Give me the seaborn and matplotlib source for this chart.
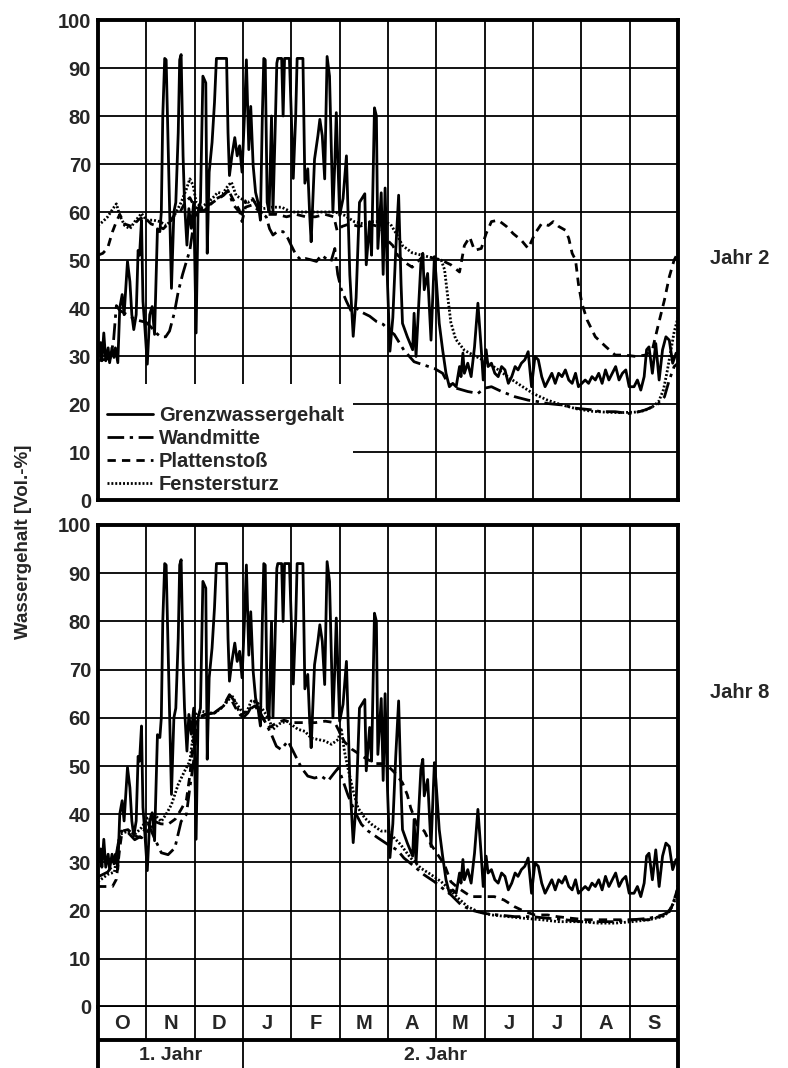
import matplotlib
matplotlib.use("Agg")
import pandas as pd
import matplotlib.pyplot as plt
import seaborn as sns
from matplotlib.patches import Rectangle

# --- DATA (x = months since 1 Oct, y = Vol.-%) ---
months = ["O", "N", "D", "J", "F", "M", "A", "M", "J", "J", "A", "S"]
series_names = ["Grenzwassergehalt", "Wandmitte", "Plattenstoß", "Fenstersturz"]
year_labels = ["1. Jahr", "2. Jahr"]
panel_labels = ["Jahr 2", "Jahr 8"]

# Grenzwassergehalt (same in both panels)
grenz_x = [0.00, 0.055, 0.08, 0.12, 0.16, 0.21, 0.24, 0.29, 0.33, 0.36, 0.41, 0.45, 0.50, 0.54, 0.61, 0.66,
           0.70, 0.74, 0.79, 0.83, 0.86, 0.90, 0.93, 0.97, 1.02, 1.07, 1.12, 1.17, 1.23, 1.28, 1.31, 1.34,
           1.38, 1.41, 1.46, 1.52, 1.57, 1.61, 1.66, 1.69, 1.72, 1.76, 1.79, 1.84, 1.88, 1.93, 1.98, 2.03,
           2.07, 2.12, 2.17, 2.23, 2.26, 2.30, 2.36, 2.41, 2.45, 2.66, 2.69, 2.72, 2.77, 2.83, 2.88, 2.93,
           2.98, 3.03, 3.07, 3.12, 3.16, 3.21, 3.26, 3.31, 3.36, 3.40, 3.43, 3.46, 3.50, 3.54, 3.59, 3.62,
           3.66, 3.70, 3.72, 3.80, 3.83, 3.86, 3.96, 4.00, 4.04, 4.09, 4.12, 4.24, 4.28, 4.34, 4.38, 4.41,
           4.48, 4.55, 4.59, 4.64, 4.69, 4.74, 4.79, 4.86, 4.90, 4.93, 5.00, 5.07, 5.14, 5.21, 5.28, 5.34,
           5.41, 5.52, 5.55, 5.62, 5.66, 5.72, 5.76, 5.79, 5.86, 5.90, 5.94, 5.99, 6.04, 6.10, 6.16, 6.22,
           6.27, 6.30, 6.40, 6.51, 6.54, 6.58, 6.68, 6.72, 6.75, 6.82, 6.89, 6.96, 6.99, 7.06, 7.13, 7.20,
           7.27, 7.34, 7.41, 7.48, 7.51, 7.55, 7.58, 7.65, 7.72, 7.79, 7.86, 7.93, 7.97, 8.03, 8.07, 8.14,
           8.21, 8.28, 8.35, 8.42, 8.49, 8.56, 8.63, 8.69, 8.76, 8.83, 8.90, 8.97, 9.04, 9.11, 9.18, 9.25,
           9.32, 9.39, 9.46, 9.53, 9.60, 9.67, 9.74, 9.81, 9.88, 9.94, 10.01, 10.08, 10.15, 10.22, 10.29,
           10.36, 10.43, 10.50, 10.57, 10.64, 10.71, 10.78, 10.85, 10.92, 10.99, 11.09, 11.16, 11.23,
           11.30, 11.35, 11.40, 11.47, 11.54, 11.61, 11.68, 11.75, 11.82, 11.89, 11.96, 12.0]
grenz_y = [30, 32.8, 29, 34.8, 29, 31.7, 28.6, 31.7, 29.7, 31.7, 28.6, 40, 42.8, 38.6, 49.7, 45.5,
           38.6, 35.5, 38.6, 52, 51, 58.3, 41.4, 35.9, 28.3, 38.6, 40.3, 34.5, 56.5, 55.9, 60, 80,
           92, 91.7, 69.7, 44.1, 60, 62, 76.5, 91.7, 92.8, 71.7, 62, 53.1, 60.7, 56.6, 62, 34.8,
           60, 62, 88.3, 86.9, 51.4, 68.3, 74.5, 82.8, 92, 92, 76.5, 67.6, 71.7, 75.5, 71.7, 73.8,
           68.3, 80, 91.7, 73, 82, 69.7, 64.1, 62, 58.3, 80, 92, 91.7, 62, 60, 80, 60,
           75, 91, 92, 92, 80, 92, 92, 80, 67, 80, 92, 92, 66, 69, 59.3, 53.8,
           71, 75.9, 79.3, 75.9, 66.9, 92.4, 88.3, 60, 70.3, 80.7, 59.3, 62.8, 71.7, 46.9, 34.1, 42.1,
           62, 63.8, 49, 58, 51, 81.7, 80, 52.4, 64, 47, 65, 45, 31, 38, 52, 63.5,
           45, 36.8, 34, 31.3, 38.9, 29.9, 49.3, 51.4, 43.8, 47.2, 33.3, 50.7, 47.2, 36.8, 31.3, 26.4,
           23.6, 24.3, 23.6, 27.8, 25.7, 30.6, 26.4, 28.5, 25.7, 31.9, 41, 31.3, 25, 31.3, 27.8, 28.5,
           26.4, 25.7, 27.8, 27.1, 24.3, 25.7, 27.8, 27.1, 28.5, 29.2, 30.9, 23.6, 29.9, 29.2, 25.7, 23.6,
           25, 26.4, 24.3, 26.4, 25.7, 27.1, 25, 24.3, 26.4, 23.6, 24.3, 25, 24.3, 25.7, 25,
           26.4, 24.3, 27.1, 25, 26.4, 27.8, 25, 26.4, 27.1, 23.6, 23.6, 25, 22.9,
           25.7, 31.3, 31.9, 26.4, 32.6, 25, 31.3, 34, 33.3, 28.5, 30.6, 29.9]

# Jahr 2
wand2_x = [0.0, 0.25, 0.32, 0.38, 0.45, 0.6, 0.8, 1.0, 1.1, 1.2, 1.3, 1.4, 1.48, 1.58, 1.66, 1.75, 1.83,
           1.9, 2.0, 2.07, 2.2, 2.34, 2.45, 2.58, 2.69, 2.8, 2.9, 2.98, 3.05, 3.2, 3.35, 3.48, 3.55, 3.62,
           3.72, 3.83, 3.93, 4.0, 4.1, 4.2, 4.3, 4.42, 4.52, 4.62, 4.72, 4.82, 4.9, 4.96, 5.03, 5.14, 5.24,
           5.34, 5.48, 5.62, 5.76, 5.9, 6.0, 6.13, 6.33, 6.54, 6.75, 6.96, 7.13, 7.24, 7.41, 7.65, 7.86,
           8.0, 8.14, 8.35, 8.63, 8.9, 9.1, 9.3, 9.6, 9.9, 10.2, 10.4, 10.7, 11.0, 11.2, 11.33, 11.47,
           11.6, 11.72, 11.82, 11.92, 12.0]
wand2_y = [29, 29.5, 33, 40.5, 39.5, 38.6, 37.5, 37, 36, 34.8, 34, 34, 35.2, 39, 43.4, 47, 49.7,
           52, 59, 60, 60.3, 61.7, 62.8, 63.4, 64.5, 61.5, 60.3, 59.5, 62, 62.8, 60, 59, 56.5, 55.2,
           56, 55.9, 54.5, 53, 51, 50, 50.3, 50, 49.7, 51, 50.3, 49.7, 52.4, 47, 44, 41.4, 39.3,
           40, 39, 38.3, 37.2, 36.6, 35.5, 34.5, 31.2, 28.8, 28.1, 27.4, 26.4, 24.3, 23.3, 22.6, 22.2,
           23.3, 23.6, 22.6, 21.5, 20.8, 20.5, 20.1, 19.8, 19.1, 18.8, 18.4, 18.4, 18, 18.4, 18.8, 19.4,
           20.1, 21.5, 25, 27.8, 28.5]

platte2_x = [0.0, 0.1, 0.2, 0.3, 0.38, 0.45, 0.55, 0.7, 0.85, 0.95, 1.1, 1.25, 1.35, 1.45, 1.58, 1.7,
             1.8, 1.9, 2.0, 2.15, 2.3, 2.45, 2.6, 2.7, 2.8, 2.92, 2.98, 3.05, 3.2, 3.35, 3.5, 3.7, 3.9,
             4.1, 4.3, 4.5, 4.7, 4.88, 4.95, 5.05, 5.2, 5.4, 5.6, 5.8, 5.9, 6.0, 6.1, 6.2, 6.35, 6.5,
             6.7, 6.9, 7.1, 7.3, 7.48, 7.58, 7.69, 7.79, 7.93, 8.03, 8.14, 8.28, 8.45, 8.59, 8.76, 8.9,
             9.04, 9.18, 9.32, 9.42, 9.53, 9.67, 9.74, 9.81, 9.88, 9.94, 10.01, 10.12, 10.29, 10.5, 10.7,
             10.9, 11.13, 11.33, 11.47, 11.6, 11.72, 11.82, 11.92, 12.0]
platte2_y = [51, 51.4, 52.5, 55.9, 58, 59.5, 57.5, 57, 58.5, 59, 57.5, 57, 56.5, 57.5, 59.3, 60,
             62, 63, 61, 60.5, 61.5, 62.5, 63.5, 64.5, 62.5, 60.5, 58, 61, 61.5, 60, 59.5, 59.5, 59,
             59.5, 59, 59, 59.5, 59, 56, 57, 57.5, 57, 57.5, 57, 56, 54, 53, 51, 49.5, 48.5,
             50.5, 50.5, 50, 49, 47.5, 53, 54.8, 52, 52.4, 55.5, 58, 58.3, 57, 55.5, 54.1, 52.4,
             55.5, 57.6, 57.2, 58, 57, 56.2, 54.5, 51.4, 50, 45, 41, 37.5, 34, 32, 30.2,
             30.2, 29.9, 30.2, 31.3, 36.8, 41.7, 46.5, 50, 51.5]

fenster2_x = [0.0, 0.1, 0.2, 0.31, 0.38, 0.45, 0.55, 0.66, 0.76, 0.9, 1.0, 1.15, 1.28, 1.41, 1.52, 1.62,
              1.72, 1.83, 1.9, 1.97, 2.03, 2.14, 2.28, 2.38, 2.48, 2.58, 2.69, 2.76, 2.86, 2.96, 3.1,
              3.2, 3.3, 3.42, 3.6, 3.8, 4.0, 4.3, 4.6, 4.9, 5.1, 5.3, 5.5, 5.7, 5.9, 6.05, 6.2, 6.3,
              6.5, 6.7, 6.9, 7.1, 7.17, 7.24, 7.3, 7.4, 7.58, 7.8, 8.0, 8.3, 8.5, 8.8, 9.0, 9.3, 9.6,
              9.9, 10.2, 10.5, 10.8, 11.1, 11.3, 11.47, 11.6, 11.7, 11.78, 11.85, 11.92, 12.0]
fenster2_y = [57.2, 58, 59, 60.7, 61.7, 59.3, 57.2, 56.5, 58, 59.7, 58.3, 58.3, 58, 57.2, 58.3, 60,
              62, 64.8, 66.9, 65.5, 62, 61, 62, 63, 64.1, 63.8, 65.5, 66.2, 63.4, 62.8, 62,
              62.5, 61.5, 60.7, 61, 61, 60, 60, 60, 60, 59.3, 58, 57.5, 58, 58, 57.5, 55, 53,
              51.5, 51, 50.5, 50, 48, 42, 37, 33.5, 31.2, 30, 29, 27, 25.5, 23.5, 22.2, 20.8, 19.8,
              19, 18.5, 18.3, 18.2, 18.3, 18.6, 19.4, 20.5, 23, 27, 31, 35, 38]

# Jahr 8
wand8_x = [0.0, 0.2, 0.35, 0.42, 0.48, 0.62, 0.76, 0.9, 1.03, 1.17, 1.31, 1.45, 1.59, 1.72, 1.83, 1.9,
           1.97, 2.02, 2.07, 2.21, 2.41, 2.59, 2.72, 2.83, 2.9, 3.0, 3.1, 3.24, 3.34, 3.45, 3.59, 3.69,
           3.79, 3.93, 4.07, 4.21, 4.34, 4.48, 4.62, 4.76, 4.86, 4.97, 5.07, 5.17, 5.31, 5.45, 5.59,
           5.79, 6.0, 6.2, 6.33, 6.54, 6.75, 6.96, 7.17, 7.3, 7.51, 7.72, 8.0, 8.28, 8.62, 8.97, 9.32,
           9.67, 10.0, 10.35, 10.7, 11.05, 11.4, 11.68, 11.82, 11.92, 12.0]
wand8_y = [27, 28, 30, 34, 36.5, 36.2, 34.7, 35.5, 38.2, 35, 32, 31.6, 33, 38.5, 40, 45.5,
           50.3, 55.2, 60, 60.7, 61, 62.4, 64.8, 63.4, 61.7, 60, 61, 63.5, 61.4, 59.3, 56.5, 54.1,
           53.4, 55.2, 52.4, 49.6, 47.9, 47.5, 47.9, 46.9, 48.2, 49.6, 46.9, 44, 40.6, 37.9, 36.5,
           35.1, 33.7, 32.5, 30.9, 29.2, 27.4, 26, 24.3, 23.3, 21.2, 20.1, 19.4, 19.1, 18.75, 18.75, 18.4,
           18.1, 17.7, 17.7, 17.7, 18.1, 18.4, 19.1, 19.8, 22.2, 24.7]

platte8_x = [0.0, 0.3, 0.38, 0.45, 0.5, 0.62, 0.76, 0.9, 1.03, 1.17, 1.3, 1.45, 1.6, 1.72, 1.83, 1.9,
             1.97, 2.03, 2.2, 2.4, 2.6, 2.72, 2.85, 2.95, 3.1, 3.25, 3.4, 3.55, 3.7, 3.85, 4.0, 4.15,
             4.3, 4.5, 4.7, 4.9, 5.0, 5.1, 5.25, 5.4, 5.55, 5.75, 5.9, 6.0, 6.15, 6.3, 6.4, 6.47, 6.6,
             6.75, 6.89, 7.03, 7.17, 7.3, 7.45, 7.72, 8.0, 8.2, 8.4, 8.62, 8.83, 9.04, 9.3, 9.5, 9.8,
             10.1, 10.5, 11.0, 11.4, 11.72, 11.86, 12.0]
platte8_y = [25, 25, 26.5, 33, 36.5, 36.8, 35.5, 35.1, 36.5, 38.5, 38, 37.9, 39, 41, 43, 48,
             55, 59.5, 60.5, 61, 62.5, 64.5, 62, 60.5, 61.5, 62.5, 60, 58, 59, 59.5, 59, 59,
             59, 59, 59.3, 59, 57, 55, 53.5, 52.5, 51.5, 50.5, 50.5, 50, 48.5, 46.5, 44, 41.3, 37.8,
             36.5, 33.7, 31.6, 29.5, 26, 24.7, 22.9, 22.9, 22.9, 22.2, 20.8, 19.8, 19.1, 19.1, 18.75, 18.4,
             18.1, 18.1, 18.1, 18.1, 19.1, 20.5, 24.7]

fenster8_x = [0.0, 0.2, 0.34, 0.45, 0.62, 0.76, 0.9, 1.03, 1.17, 1.31, 1.41, 1.52, 1.66, 1.79, 1.9,
              1.97, 2.03, 2.14, 2.28, 2.41, 2.55, 2.69, 2.76, 2.86, 2.97, 3.07, 3.17, 3.31, 3.41, 3.52,
              3.62, 3.76, 3.9, 4.0, 4.14, 4.28, 4.41, 4.55, 4.69, 4.83, 4.97, 5.03, 5.1, 5.17, 5.28,
              5.38, 5.52, 5.66, 5.86, 6.0, 6.06, 6.26, 6.47, 6.68, 6.9, 7.1, 7.24, 7.45, 7.65, 7.86,
              8.14, 8.48, 8.83, 9.18, 9.53, 10.0, 10.35, 10.7, 11.05, 11.4, 11.68, 11.82, 11.89, 11.96, 12.0]
fenster8_y = [26, 27.5, 28, 35.8, 36.5, 35.8, 37.2, 39.2, 39.9, 38.5, 40, 42, 46.2, 48.9, 51,
              56.5, 60.7, 61.4, 61, 61, 62, 63.5, 64.8, 63, 61.4, 61, 63.5, 63, 61.7, 60,
              57.6, 58.8, 59.3, 58.6, 57.6, 57.2, 55.8, 55.5, 55.2, 54.5, 55.5, 57.9, 53, 49.6, 44.8,
              41.3, 39.2, 37.9, 36.5, 36.5, 35.8, 33.7, 30.9, 28.8, 27.4, 26, 24.7, 22.6, 20.8, 19.8,
              19.1, 18.75, 18.4, 18.1, 17.7, 17.7, 17.4, 17.4, 17.7, 18.1, 18.75, 19.8, 21.2, 22.6, 25.3]

# --- STYLE ---
DASHES = {
    "Grenzwassergehalt": "",
    "Wandmitte": (6, 2, 1.2, 2),
    "Plattenstoß": (3, 2.2),
    "Fenstersturz": (0.7, 0.7),
}
W_PX, H_PX = 788, 1068
LEFT, RIGHT = 98, 678
LW = 2.0


def make_frame(parts):
    frames = []
    for name, xs, ys in parts:
        frames.append(pd.DataFrame({"monat": xs, "wert": ys, "serie": name}))
    return pd.concat(frames, ignore_index=True)


def draw_panel(ax, df, show_legend):
    sns.lineplot(data=df, x="monat", y="wert", style="serie", style_order=series_names,
                 dashes=DASHES, color="black", linewidth=LW, estimator=None, sort=False,
                 ax=ax, legend=show_legend)
    ax.set_xlim(0, 12)
    ax.set_ylim(0, 100)
    ax.set_xticks(range(13))
    ax.set_xticklabels([])
    ax.set_yticks(range(0, 101, 10))
    ax.set_xlabel("")
    ax.set_ylabel("")
    ax.set_axisbelow(True)
    ax.grid(True, color="black", linewidth=1.3)
    ax.tick_params(length=0, labelsize=14.5, pad=5)
    for lab in ax.get_yticklabels():
        lab.set_fontweight("bold")
    for sp in ax.spines.values():
        sp.set_color("black")
        sp.set_linewidth(2.8)
        sp.set_zorder(5)


sns.set_style("white")
plt.rcParams["font.family"] = ["Liberation Sans", "DejaVu Sans"]
plt.rcParams["font.weight"] = "bold"

fig = plt.figure(figsize=(W_PX / 100, H_PX / 100), dpi=100)
ax_w = (RIGHT - LEFT) / W_PX
ax_top = fig.add_axes([LEFT / W_PX, 1 - 500 / H_PX, ax_w, 480 / H_PX])
ax_bot = fig.add_axes([LEFT / W_PX, 1 - 1007 / H_PX, ax_w, 482 / H_PX])

df2 = make_frame([("Grenzwassergehalt", grenz_x, grenz_y), ("Wandmitte", wand2_x, wand2_y),
                  ("Plattenstoß", platte2_x, platte2_y), ("Fenstersturz", fenster2_x, fenster2_y)])
df8 = make_frame([("Grenzwassergehalt", grenz_x, grenz_y), ("Wandmitte", wand8_x, wand8_y),
                  ("Plattenstoß", platte8_x, platte8_y), ("Fenstersturz", fenster8_x, fenster8_y)])

draw_panel(ax_top, df2, True)
draw_panel(ax_bot, df8, False)

# legend sits on a white patch that hides the grid
ax_top.add_patch(Rectangle((0, 0), 5.28, 24.2, facecolor="white", edgecolor="none", zorder=1.5))
old = ax_top.get_legend()
handles = old.legend_handles
labels = [t.get_text() for t in old.texts]
old.remove()
for h in handles:
    h.set_linewidth(LW)
    h.set_color("black")
leg = ax_top.legend(handles, labels, loc="lower left", bbox_to_anchor=(0.015, 0.012),
                    frameon=False, borderpad=0, borderaxespad=0, handlelength=2.3,
                    handletextpad=0.3, labelspacing=0.2, fontsize=14.5)
leg.set_zorder(6)
for t in leg.get_texts():
    t.set_fontweight("bold")

# month / year table under the lower panel
ax_tab = fig.add_axes([LEFT / W_PX, 0, ax_w, 61 / H_PX])
ax_tab.set_xlim(0, 12)
ax_tab.set_ylim(0, 61)
ax_tab.set_xticks([])
ax_tab.set_yticks([])
for side in ["top", "bottom"]:
    ax_tab.spines[side].set_visible(False)
for side in ["left", "right"]:
    ax_tab.spines[side].set_linewidth(2.8)
    ax_tab.spines[side].set_color("black")
ax_tab.hlines(28, 0, 12, color="black", linewidth=2.8, clip_on=False)
ax_tab.vlines(range(1, 12), 28, 61, color="black", linewidth=1.3)
ax_tab.vlines([3], 0, 28, color="black", linewidth=1.3)
for i, m in enumerate(months):
    ax_tab.text(i + 0.5, 44.5, m, ha="center", va="center", fontsize=14.5, fontweight="bold")
ax_tab.text(1.5, 12, year_labels[0], ha="center", va="center", fontsize=14, fontweight="bold")
ax_tab.text(6.98, 12, year_labels[1], ha="center", va="center", fontsize=14, fontweight="bold")

fig.text(24 / W_PX, 1 - 542 / H_PX, "Wassergehalt [Vol.-%]", rotation=90, ha="center",
         va="center", fontsize=13.5, fontweight="bold")
fig.text(740 / W_PX, 1 - 258 / H_PX, panel_labels[0], ha="center", va="center",
         fontsize=14.5, fontweight="bold")
fig.text(740 / W_PX, 1 - 693 / H_PX, panel_labels[1], ha="center", va="center",
         fontsize=14.5, fontweight="bold")

fig.savefig("out.png", dpi=100)
